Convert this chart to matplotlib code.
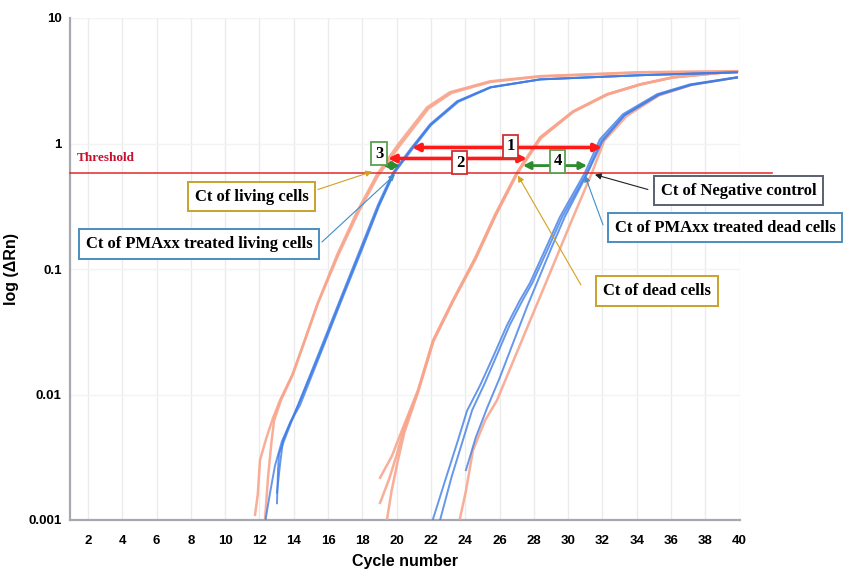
import matplotlib
matplotlib.use("Agg")
import matplotlib.pyplot as plt

# amplification curves (cycle, delta Rn)
living_1_c = [11.74, 11.9, 12.03, 12.4, 12.79, 13.2, 13.9, 14.54, 15.35, 16.52, 17.69, 18.85, 20.08, 21.77, 23.1, 25.44, 28.36, 34.2, 39.84]
living_1_v = [0.0011, 0.0016, 0.003, 0.0045, 0.0065, 0.009, 0.0142, 0.0247, 0.0515, 0.129, 0.286, 0.565, 0.98, 1.94, 2.56, 3.13, 3.44, 3.70, 3.77]
living_2_c = [12.32, 12.5, 12.7, 12.85, 13.25, 13.95, 14.6, 15.4, 16.6, 17.75, 18.9, 20.15, 21.85, 23.2, 25.5, 28.4, 34.2, 39.84]
living_2_v = [0.001, 0.0022, 0.0042, 0.0062, 0.009, 0.0145, 0.026, 0.053, 0.13, 0.28, 0.55, 0.95, 1.9, 2.53, 3.1, 3.42, 3.68, 3.75]

pma_living_1_c = [13.02, 13.08, 13.14, 13.66, 14.19, 15.41, 16.69, 17.86, 18.91, 19.78, 20.78, 21.94, 23.52, 25.44, 28.36, 34.19, 39.84]
pma_living_1_v = [0.00136, 0.0025, 0.00337, 0.00515, 0.00787, 0.0205, 0.0565, 0.142, 0.325, 0.586, 0.895, 1.42, 2.17, 2.81, 3.25, 3.50, 3.70]
pma_living_2_c = [13.02, 13.2, 13.37, 13.8, 14.36, 15.55, 16.8, 17.95, 18.98, 19.85, 20.85, 22.0, 23.6, 25.5, 28.4, 34.2, 39.84]
pma_living_2_v = [0.00165, 0.0028, 0.0043, 0.006, 0.0082, 0.021, 0.057, 0.14, 0.32, 0.58, 0.88, 1.4, 2.15, 2.8, 3.24, 3.5, 3.68]
pma_living_3_c = [12.35, 12.6, 12.9, 13.3, 13.75, 14.3, 15.5, 16.75, 17.9, 18.95, 19.82, 20.82, 21.97, 23.55, 25.47, 28.38, 34.2, 39.84]
pma_living_3_v = [0.001, 0.0016, 0.0027, 0.0042, 0.0058, 0.0085, 0.021, 0.057, 0.14, 0.32, 0.58, 0.89, 1.41, 2.16, 2.8, 3.24, 3.5, 3.69]

dead_1_c = [19.03, 19.73, 20.37, 21.24, 22.12, 23.28, 24.57, 25.73, 27.01, 28.36, 30.28, 32.26, 34.19, 36.1, 39.84]
dead_1_v = [0.00217, 0.00325, 0.00545, 0.0108, 0.027, 0.0565, 0.122, 0.27, 0.586, 1.12, 1.80, 2.47, 2.96, 3.37, 3.77]
dead_2_c = [19.43, 19.7, 20.05, 20.45, 21.26, 22.14, 23.3, 24.6, 25.76, 27.04, 28.4, 30.3, 32.3, 34.2, 36.1, 39.84]
dead_2_v = [0.001, 0.0017, 0.0029, 0.005, 0.0106, 0.0265, 0.056, 0.12, 0.265, 0.58, 1.1, 1.79, 2.46, 2.95, 3.36, 3.76]
dead_3_c = [19.03, 19.55, 20.0, 20.4, 21.25, 22.13, 23.3, 24.58, 25.75, 27.02, 28.38, 30.3, 32.28, 34.2, 36.1, 39.84]
dead_3_v = [0.00137, 0.0021, 0.0033, 0.0052, 0.0107, 0.0268, 0.056, 0.121, 0.268, 0.583, 1.11, 1.8, 2.46, 2.95, 3.36, 3.76]

pma_dead_1_c = [22.12, 22.82, 23.57, 24.1, 24.86, 25.61, 26.43, 27.19, 27.77, 28.65, 29.52, 30.98, 31.85, 33.19, 35.18, 37.1, 39.84]
pma_dead_1_v = [0.00102, 0.00205, 0.0043, 0.0074, 0.0118, 0.0198, 0.0356, 0.0565, 0.0773, 0.142, 0.26, 0.586, 1.08, 1.71, 2.47, 2.96, 3.37]
pma_dead_2_c = [22.53, 23.2, 23.9, 24.4, 25.1, 25.8, 26.58, 27.33, 27.9, 28.78, 29.64, 31.08, 31.95, 33.28, 35.25, 37.15, 39.84]
pma_dead_2_v = [0.001, 0.0022, 0.0045, 0.0075, 0.012, 0.02, 0.0355, 0.056, 0.077, 0.141, 0.258, 0.58, 1.06, 1.69, 2.45, 2.94, 3.36]
pma_dead_3_c = [24.04, 24.6, 25.27, 26.0, 26.8, 27.6, 28.3, 29.0, 29.8, 31.1, 32.0, 33.3, 35.3, 37.2, 39.84]
pma_dead_3_v = [0.0025, 0.0045, 0.0078, 0.0135, 0.026, 0.05, 0.085, 0.145, 0.26, 0.57, 1.04, 1.68, 2.44, 2.93, 3.35]

neg_c = [23.69, 24.04, 24.45, 25.15, 25.85, 26.6, 27.77, 28.94, 30.1, 31.39, 32.1, 33.4, 35.3, 37.2, 39.84]
neg_v = [0.00103, 0.00171, 0.0036, 0.0062, 0.009, 0.0159, 0.0385, 0.093, 0.225, 0.586, 1.05, 1.65, 2.42, 2.93, 3.36]

threshold = 0.586
x_ticks = list(range(2, 41, 2))
y_ticks = [0.001, 0.01, 0.1, 1, 10]
y_labels = ["0.001", "0.01", "0.1", "1", "10"]

salmon = "#F8A58C"
blue = "#3F7DE6"
serif = "Liberation Serif"
plt.rcParams["font.family"] = ["Liberation Sans", "DejaVu Sans"]

fig = plt.figure(figsize=(8.47, 5.69), dpi=100)
ax = fig.add_axes([70 / 847, 1 - 520 / 569, 670 / 847, 502 / 569])
ax.set_yscale("log")
ax.set_xlim(0.95, 40.02)
ax.set_ylim(0.001, 10)

for c, v in [(living_1_c, living_1_v), (living_2_c, living_2_v), (dead_1_c, dead_1_v),
             (dead_2_c, dead_2_v), (dead_3_c, dead_3_v), (neg_c, neg_v)]:
    ax.plot(c, v, color=salmon, lw=1.8, alpha=0.9, zorder=3)
for c, v in [(pma_living_1_c, pma_living_1_v), (pma_living_2_c, pma_living_2_v),
             (pma_living_3_c, pma_living_3_v), (pma_dead_1_c, pma_dead_1_v),
             (pma_dead_2_c, pma_dead_2_v), (pma_dead_3_c, pma_dead_3_v)]:
    ax.plot(c, v, color=blue, lw=1.4, alpha=0.8, zorder=4)

# threshold line runs a little past the axis
ax.plot([0.95, 41.9], [threshold, threshold], color="#E02828", lw=1.1, clip_on=False, zorder=5)
ax.text(1.35, 0.77, "Threshold", color="#C8102E", fontsize=9.5, fontweight="bold",
        family=serif, ha="left", va="center")

ax.set_xticks(x_ticks)
ax.set_yticks(y_ticks)
ax.set_yticklabels(y_labels)
ax.minorticks_off()
ax.tick_params(length=0, labelsize=9.5)
ax.tick_params(axis="x", pad=11)
ax.tick_params(axis="y", pad=6)
for lab in ax.get_xticklabels() + ax.get_yticklabels():
    lab.set_fontweight("bold")
ax.grid(True, axis="x", color="#EBEBEB", lw=1)
ax.grid(True, axis="y", color="#F3F3F3", lw=1)
ax.set_axisbelow(True)
for s in ["top", "right"]:
    ax.spines[s].set_visible(False)
for s in ["left", "bottom"]:
    ax.spines[s].set_color("#A8A8B0")
    ax.spines[s].set_linewidth(1.6)

ax.set_xlabel("Cycle number", fontsize=11.5, fontweight="bold", labelpad=5)
ax.set_ylabel("log (\u0394Rn)", fontsize=11.5, fontweight="bold", labelpad=7)

# Ct boxes with pointer arrows
labels = [
    ("Ct of living cells", (11.56, 0.377), "#C9A22C", (15.41, 0.43), (18.56, 0.597), "#D4A020"),
    ("Ct of PMAxx treated living cells", (8.47, 0.158), "#4A8EC0", (15.64, 0.164), (19.9, 0.565), "#3E8EC8"),
    ("Ct of Negative control", (39.96, 0.42), "#5A6070", (34.65, 0.43), (31.56, 0.565), "#202020"),
    ("Ct of PMAxx treated dead cells", (39.14, 0.213), "#4A8EC0", (32.03, 0.225), (30.98, 0.555), "#3E8EC8"),
    ("Ct of dead cells", (35.18, 0.0667), "#C9A22C", (30.75, 0.0745), (27.07, 0.555), "#D4A020"),
]
for txt, pos, ec, start, tip, ac in labels:
    ax.annotate("", xy=tip, xytext=start,
                arrowprops=dict(arrowstyle="-|>", color=ac, lw=0.8, mutation_scale=9,
                                shrinkA=0, shrinkB=0), zorder=6)
    ax.text(pos[0], pos[1], txt, ha="center", va="center", fontsize=12, fontweight="bold",
            family=serif, clip_on=False, zorder=7,
            bbox=dict(boxstyle="square,pad=0.4", fc="white", ec=ec, lw=1.4))

# delta Ct double arrows with numbered boxes
deltas = [
    ("1", (20.89, 31.97), 0.93, (26.66, 0.95), "#FF1A1A", "#D03030"),
    ("2", (19.49, 27.6), 0.76, (23.69, 0.705), "#FF1A1A", "#D03030"),
    ("3", (19.2, 20.19), 0.667, (18.97, 0.83), "#2E8B2E", "#5AA050"),
    ("4", (27.36, 31.1), 0.667, (29.4, 0.72), "#2E8B2E", "#5AA050"),
]
for num, (x0, x1), yv, bpos, ac, ec in deltas:
    lw = 2.6 if ac == "#FF1A1A" else 2.0
    ax.annotate("", xy=(x1, yv), xytext=(x0, yv),
                arrowprops=dict(arrowstyle="<|-|>", color=ac, lw=lw, mutation_scale=11,
                                shrinkA=0, shrinkB=0), zorder=8)
    ax.text(bpos[0], bpos[1], num, ha="center", va="center", fontsize=12, fontweight="bold",
            family=serif, zorder=9,
            bbox=dict(boxstyle="square,pad=0.2", fc="white", ec=ec, lw=1.3))

fig.savefig("out.png", dpi=100)
